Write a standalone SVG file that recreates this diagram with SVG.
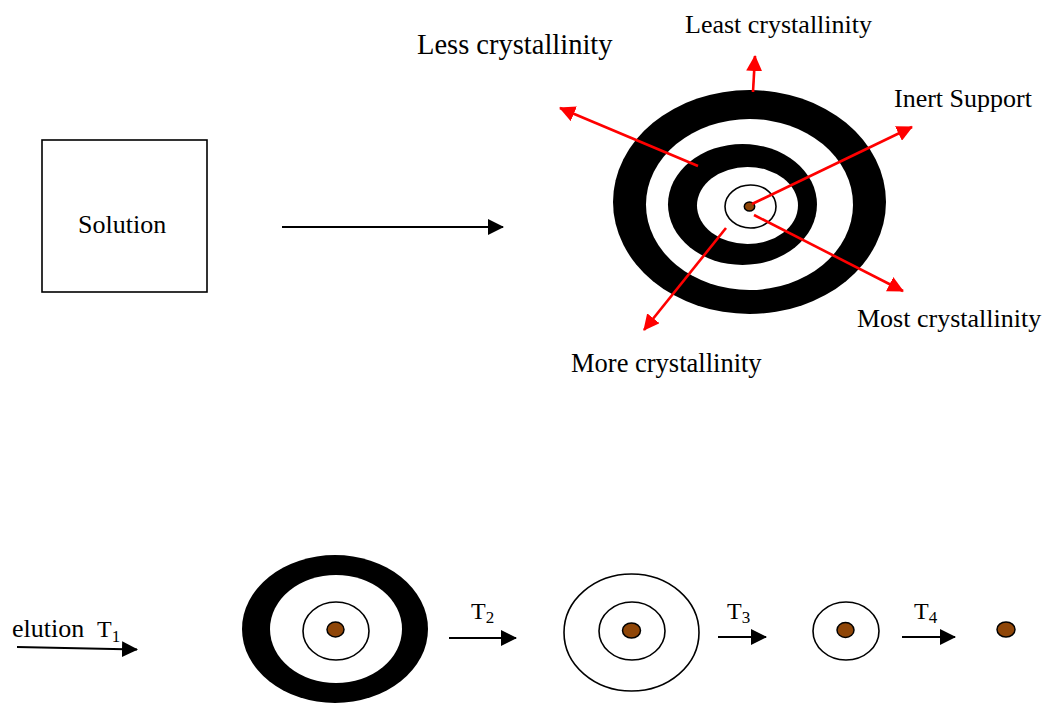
<svg xmlns="http://www.w3.org/2000/svg" width="1046" height="706" viewBox="0 0 1046 706">
<style>
text{font-family:"Liberation Serif","Times New Roman",serif;font-size:26px;fill:#000}
.t{font-size:24px}
.sub{font-size:17px}
.blk{fill:#000}
.wht{fill:#fff}
.thin{fill:#fff;stroke:#000;stroke-width:1.6}
.dot{fill:#8f4608;stroke:#000;stroke-width:1.5}
.ra{stroke:#f00;stroke-width:2.6;fill:none;marker-end:url(#rh)}
.ba{stroke:#000;stroke-width:2.2;fill:none;marker-end:url(#bh)}
</style>
<defs>
<marker id="rh" viewBox="0 0 16 16" refX="15" refY="8" markerWidth="16" markerHeight="16" markerUnits="userSpaceOnUse" orient="auto">
<path d="M0,0 L16,8 L0,16 z" fill="#f00"/>
</marker>
<marker id="bh" viewBox="0 0 16 16" refX="15" refY="8" markerWidth="16" markerHeight="16" markerUnits="userSpaceOnUse" orient="auto">
<path d="M0,0 L16,8 L0,16 z" fill="#000"/>
</marker>
</defs>
<rect width="1046" height="706" fill="#fff"/>

<g id="solution">
<rect x="42" y="140" width="165" height="152" fill="#fff" stroke="#000" stroke-width="1.6"/>
<text x="78" y="233">Solution</text>
</g>

<g id="target-main">
<ellipse class="blk" cx="749.5" cy="202" rx="136.5" ry="112"/>
<ellipse class="wht" cx="749.5" cy="204.5" rx="103.5" ry="85.5"/>
<ellipse class="blk" cx="742.5" cy="204.5" rx="74.5" ry="60.5"/>
<ellipse class="wht" cx="747.5" cy="205.5" rx="50.5" ry="38.5"/>
<ellipse class="thin" cx="750.5" cy="206.5" rx="25.5" ry="21.5"/>
<ellipse class="dot" cx="749.5" cy="206.5" rx="5.2" ry="4.6"/>
</g>

<g id="labels-top">
<text x="685" y="33">Least crystallinity</text>
<text x="417" y="54" style="font-size:28.5px">Less crystallinity</text>
<text x="894" y="107">Inert Support</text>
<text x="857" y="327">Most crystallinity</text>
<text x="571" y="372" style="font-size:26.5px">More crystallinity</text>
</g>

<g id="elution-label">
<text x="12" y="637">elution</text>
<text x="97" y="637" class="t">T<tspan class="sub" dy="5">1</tspan></text>
</g>

<g id="stage1">
<ellipse class="blk" cx="335" cy="629" rx="93" ry="74"/>
<ellipse class="wht" cx="336" cy="629" rx="66" ry="54"/>
<ellipse class="thin" cx="336" cy="631" rx="33" ry="29"/>
<ellipse class="dot" cx="335.5" cy="629.5" rx="8.5" ry="7.5"/>
</g>
<g id="t2-label"><text x="471" y="619" class="t">T<tspan class="sub" dy="4">2</tspan></text></g>

<g id="stage2">
<ellipse class="thin" cx="631.5" cy="632.5" rx="67.5" ry="58.5"/>
<ellipse class="thin" cx="632" cy="631" rx="33" ry="29"/>
<ellipse class="dot" cx="631.5" cy="630.5" rx="9" ry="7.5"/>
</g>
<g id="t3-label"><text x="727" y="619" class="t">T<tspan class="sub" dy="4">3</tspan></text></g>

<g id="stage3">
<ellipse class="thin" cx="846" cy="631" rx="33" ry="29"/>
<ellipse class="dot" cx="845.5" cy="630" rx="8.5" ry="7.5"/>
</g>
<g id="t4-label"><text x="914" y="619" class="t">T<tspan class="sub" dy="4">4</tspan></text></g>

<g id="stage4">
<ellipse class="dot" cx="1006" cy="629.5" rx="9" ry="7.5"/>
</g>

<g id="connectors">
<line class="ba" x1="282" y1="227" x2="503" y2="227"/>
<line class="ra" x1="753" y1="92" x2="755" y2="56"/>
<line class="ra" x1="698" y1="166" x2="560" y2="108"/>
<line class="ra" x1="752" y1="204" x2="912" y2="127"/>
<line class="ra" x1="754" y1="215" x2="903" y2="291"/>
<line class="ra" x1="726" y1="228" x2="644" y2="330"/>
<line class="ba" x1="17" y1="647" x2="137" y2="649.5"/>
<line class="ba" x1="449" y1="638" x2="516" y2="638"/>
<line class="ba" x1="718" y1="637" x2="766" y2="637"/>
<line class="ba" x1="902" y1="637" x2="955" y2="637"/>
</g>
</svg>
